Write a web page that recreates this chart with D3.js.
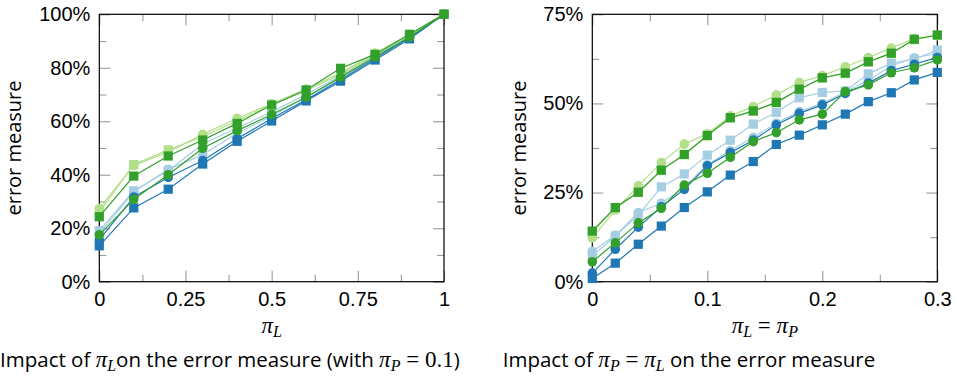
<!DOCTYPE html>
<html><head><meta charset="utf-8">
<script src="https://cdn.jsdelivr.net/npm/d3@7"></script>
<style>
body{margin:0;background:#fff;}
svg{display:block;}
</style></head>
<body>
<svg id="c" width="958" height="382"></svg>
<script>
// ---------- DATA ----------
// Left chart: impact of pi_L (pi_P = 0.1)
const leftX = [0, 0.1, 0.2, 0.3, 0.4, 0.5, 0.6, 0.7, 0.8, 0.9, 1];
const leftLightBlueCircle  = [18.0, 33.6, 42.0, 47.5, 55.5, 62.0, 69.0, 76.0, 84.0, 91.5, 100];
const leftLightBlueSquare  = [19.1, 34.0, 41.5, 51.5, 57.5, 63.5, 70.0, 77.0, 84.5, 92.0, 100];
const leftDarkBlueCircle   = [15.6, 31.7, 39.0, 45.3, 53.5, 61.0, 68.0, 75.5, 83.5, 91.3, 100];
const leftDarkBlueSquare   = [13.4, 27.6, 34.6, 44.0, 52.5, 60.1, 67.6, 75.0, 82.9, 90.8, 100];
const leftLightGreenCircle = [27.4, 43.5, 48.5, 55.1, 61.1, 66.5, 72.0, 78.0, 85.5, 92.5, 100];
const leftLightGreenSquare = [26.0, 43.8, 49.3, 54.2, 60.3, 66.0, 71.5, 77.5, 85.0, 92.3, 100];
const leftDarkGreenCircle  = [17.5, 30.8, 40.0, 49.9, 56.5, 62.5, 69.0, 76.5, 84.0, 91.5, 100];
const leftDarkGreenSquare  = [24.3, 39.5, 47.0, 53.0, 59.2, 66.1, 71.7, 79.8, 85.0, 92.5, 100];

// Right chart: impact of pi_P = pi_L
const rightX = [0, 0.02, 0.04, 0.06, 0.08, 0.1, 0.12, 0.14, 0.16, 0.18, 0.2, 0.22, 0.24, 0.26, 0.28, 0.3];
const rightLightBlueCircle  = [8.5, 13.0, 19.4, 22.0, 26.5, 32.8, 36.8, 40.5, 44.5, 47.7, 50.0, 53.3, 56.5, 60.5, 62.8, 64.0];
const rightLightBlueSquare  = [7.2, 12.8, 18.7, 26.6, 30.2, 35.5, 39.7, 44.2, 47.5, 51.6, 53.1, 53.5, 58.3, 61.3, 62.4, 65.0];
const rightDarkBlueCircle   = [2.4, 9.1, 15.3, 21.0, 25.9, 32.5, 36.2, 39.7, 44.0, 47.2, 49.6, 52.8, 55.7, 59.2, 61.0, 62.9];
const rightDarkBlueSquare   = [0.9, 5.2, 10.5, 15.6, 20.8, 25.2, 29.9, 33.7, 38.5, 41.1, 44.0, 47.0, 50.5, 53.0, 56.6, 58.7];
const rightLightGreenCircle = [12.3, 20.1, 26.9, 33.4, 38.6, 41.5, 46.5, 49.1, 52.4, 55.9, 57.8, 60.3, 62.9, 65.5, 68.2, 69.0];
const rightLightGreenSquare = [14.0, 20.6, 25.0, 31.2, 35.6, 40.9, 45.9, 47.8, 50.2, 53.9, 57.1, 58.4, 61.6, 64.0, 67.9, 69.1];
const rightDarkGreenCircle  = [5.6, 10.9, 16.5, 20.6, 27.1, 30.4, 34.9, 39.3, 41.8, 45.4, 47.0, 53.3, 55.2, 58.6, 60.0, 62.2];
const rightDarkGreenSquare  = [14.2, 20.8, 25.1, 31.3, 35.7, 41.0, 46.0, 47.9, 50.3, 54.0, 57.2, 58.5, 61.7, 64.1, 68.0, 69.2];

const leftXTicks = [0, 0.25, 0.5, 0.75, 1];
const leftXMinor = [0.125, 0.375, 0.625, 0.875];
const leftYTicks = [0, 20, 40, 60, 80, 100];
const leftYMinor = [10, 30, 50, 70, 90];
const rightXTicks = [0, 0.1, 0.2, 0.3];
const rightXMinor = [0.05, 0.15, 0.25];
const rightYTicks = [0, 25, 50, 75];
const rightYMinor = [12.5, 37.5, 62.5];

const colors = {lightBlue:"#a6cee3", darkBlue:"#1f78b4", lightGreen:"#b2df8a", darkGreen:"#33a02c"};

const leftSeries = [
  {v:leftLightBlueCircle, c:colors.lightBlue, m:"circle"},
  {v:leftLightBlueSquare, c:colors.lightBlue, m:"square"},
  {v:leftDarkBlueCircle, c:colors.darkBlue, m:"circle"},
  {v:leftDarkBlueSquare, c:colors.darkBlue, m:"square"},
  {v:leftLightGreenCircle, c:colors.lightGreen, m:"circle"},
  {v:leftLightGreenSquare, c:colors.lightGreen, m:"square"},
  {v:leftDarkGreenCircle, c:colors.darkGreen, m:"circle"},
  {v:leftDarkGreenSquare, c:colors.darkGreen, m:"square"}
];
const rightSeries = [
  {v:rightLightBlueCircle, c:colors.lightBlue, m:"circle"},
  {v:rightLightBlueSquare, c:colors.lightBlue, m:"square"},
  {v:rightDarkBlueCircle, c:colors.darkBlue, m:"circle"},
  {v:rightDarkBlueSquare, c:colors.darkBlue, m:"square"},
  {v:rightLightGreenCircle, c:colors.lightGreen, m:"circle"},
  {v:rightLightGreenSquare, c:colors.lightGreen, m:"square"},
  {v:rightDarkGreenCircle, c:colors.darkGreen, m:"circle"},
  {v:rightDarkGreenSquare, c:colors.darkGreen, m:"square"}
];

// ---------- DRAW ----------
const svg = d3.select("#c");
const TICKFONT = "'Liberation Sans', Arial, sans-serif";
const TEXTFONT = "'Open Sans', 'Noto Sans', sans-serif";
const MATHFONT = "'Liberation Serif', 'DejaVu Serif', serif";

function panel(opt){
  const g = svg.append("g");
  const x = d3.scaleLinear().domain(opt.xDomain).range([opt.x0, opt.x1]);
  const y = d3.scaleLinear().domain(opt.yDomain).range([opt.y0, opt.y1]);
  const W = opt.x1 - opt.x0, H = opt.y0 - opt.y1;

  function tickAxes(vals, len){
    const gb = g.append("g").attr("transform",`translate(0,${opt.y0})`)
      .call(d3.axisBottom(x).tickValues(vals).tickSize(-len).tickFormat(""));
    const gt = g.append("g").attr("transform",`translate(0,${opt.y1})`)
      .call(d3.axisTop(x).tickValues(vals).tickSize(-len).tickFormat(""));
    [gb,gt].forEach(a=>{a.select(".domain").remove();a.selectAll("line").attr("stroke","#9a9a9a").attr("stroke-width",1.1);});
  }
  function tickAxesY(vals, len){
    const gl = g.append("g").attr("transform",`translate(${opt.x0},0)`)
      .call(d3.axisLeft(y).tickValues(vals).tickSize(-len).tickFormat(""));
    const gr = g.append("g").attr("transform",`translate(${opt.x1},0)`)
      .call(d3.axisRight(y).tickValues(vals).tickSize(-len).tickFormat(""));
    [gl,gr].forEach(a=>{a.select(".domain").remove();a.selectAll("line").attr("stroke","#9a9a9a").attr("stroke-width",1.1);});
  }
  tickAxes(opt.xTicks, 11); tickAxes(opt.xMinor, 7);
  tickAxesY(opt.yTicks, 11); tickAxesY(opt.yMinor, 7);

  const lx = g.append("g").attr("transform",`translate(0,${opt.y0})`)
    .call(d3.axisBottom(x).tickValues(opt.xTicks).tickSize(0).tickPadding(10).tickFormat(opt.xFmt));
  lx.select(".domain").remove();
  lx.selectAll("text").attr("font-family",TICKFONT).attr("font-size",20).attr("fill","#000");
  const ly = g.append("g").attr("transform",`translate(${opt.x0},0)`)
    .call(d3.axisLeft(y).tickValues(opt.yTicks).tickSize(0).tickPadding(9).tickFormat(d=>d+"%"));
  ly.select(".domain").remove();
  ly.selectAll("text").attr("font-family",TICKFONT).attr("font-size",20).attr("fill","#000");

  g.append("rect").attr("x",opt.x0).attr("y",opt.y1).attr("width",W).attr("height",H)
    .attr("fill","none").attr("stroke","#000").attr("stroke-width",1.2);

  const line = d3.line().x((d,i)=>x(opt.xs[i])).y(d=>y(d));
  opt.series.forEach(s=>{
    const sg = g.append("g");
    sg.append("path").attr("d",line(s.v)).attr("fill","none").attr("stroke",s.c).attr("stroke-width",1.2);
    if(s.m==="circle"){
      sg.selectAll("circle").data(s.v).join("circle")
        .attr("cx",(d,i)=>x(opt.xs[i])).attr("cy",d=>y(d)).attr("r",4.8).attr("fill",s.c);
    } else {
      sg.selectAll("rect").data(s.v).join("rect")
        .attr("x",(d,i)=>x(opt.xs[i])-4.6).attr("y",d=>y(d)-4.6).attr("width",9.2).attr("height",9.2).attr("fill",s.c);
    }
  });

  svg.append("text").attr("transform",`translate(${opt.ylabX},${(opt.y0+opt.y1)/2}) rotate(-90)`)
    .attr("text-anchor","middle").attr("dy","0.27em")
    .attr("font-family",TEXTFONT).attr("font-size",20).attr("fill","#000").text("error measure");
}

panel({x0:99.3, x1:444, y0:281.7, y1:14.3, xDomain:[0,1], yDomain:[0,100],
  xs:leftX, series:leftSeries, xTicks:leftXTicks, xMinor:leftXMinor, yTicks:leftYTicks, yMinor:leftYMinor,
  xFmt:d=>String(d), ylabX:15.5});
panel({x0:592.3, x1:937.3, y0:281.7, y1:14.3, xDomain:[0,0.3], yDomain:[0,75],
  xs:rightX, series:rightSeries, xTicks:rightXTicks, xMinor:rightXMinor, yTicks:rightYTicks, yMinor:rightYMinor,
  xFmt:d=>String(d), ylabX:521});

function mathLabel(cx, y, parts){
  const t = svg.append("text").attr("x",cx).attr("y",y).attr("text-anchor","middle")
    .attr("font-family",MATHFONT).attr("font-size",23).attr("fill","#000");
  parts.forEach(p=>{
    const ts = t.append("tspan").text(p.t);
    if(p.i) ts.attr("font-style","italic");
    if(p.sub) ts.attr("font-size",16).attr("dy",4);
    if(p.up) ts.attr("dy",-4);
  });
  return t;
}
mathLabel(271.7, 333, [{t:"π",i:1},{t:"L",i:1,sub:1}]);
mathLabel(764.8, 333, [{t:"π",i:1},{t:"L",i:1,sub:1},{t:" = ",up:1},{t:"π",i:1},{t:"P",i:1,sub:1}]);

function caption(x, y, parts){
  const t = svg.append("text").attr("x",x).attr("y",y).attr("font-family",TEXTFONT).attr("font-size",20.5).attr("fill","#000");
  let shift = 0;
  parts.forEach(p=>{
    const ts = t.append("tspan").text(p.t);
    if(p.m){ ts.attr("font-family",MATHFONT).attr("font-size",23); }
    if(p.i){ ts.attr("font-style","italic"); }
    if(p.sub){ ts.attr("font-size",16).attr("dy",4); shift=4; }
    else if(shift){ ts.attr("dy",-shift); shift=0; }
  });
}
caption(0, 367, [{t:"Impact of "},{t:"π",m:1,i:1},{t:"L",m:1,i:1,sub:1},{t:"on the error measure (with "},{t:"π",m:1,i:1},{t:"P",m:1,i:1,sub:1},{t:" = 0.1",m:1},{t:")"}]);
caption(502.7, 367, [{t:"Impact of "},{t:"π",m:1,i:1},{t:"P",m:1,i:1,sub:1},{t:" = ",m:1},{t:"π",m:1,i:1},{t:"L",m:1,i:1,sub:1},{t:" on the error measure"}]);
</script>
</body></html>
